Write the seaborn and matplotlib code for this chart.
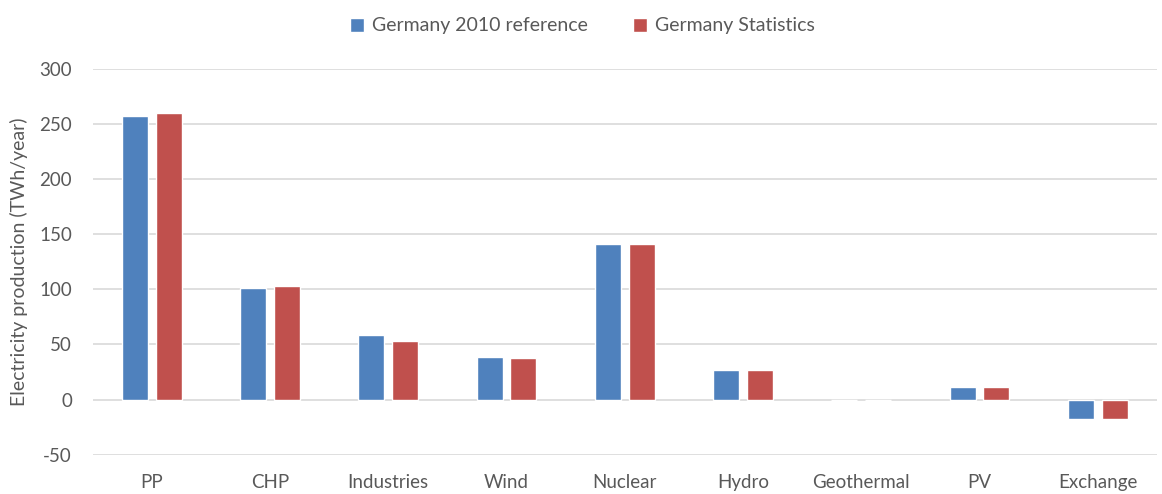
import matplotlib.pyplot as plt
import pandas as pd
import seaborn as sns

categories = ["PP", "CHP", "Industries", "Wind", "Nuclear", "Hydro", "Geothermal", "PV", "Exchange"]
reference_2010 = [257.6, 101.5, 58.2, 38.7, 140.8, 26.9, 0.03, 11.0, -17.4]
statistics = [259.8, 102.7, 53.4, 37.5, 140.8, 26.9, 0.03, 11.0, -17.4]
series_names = ["Germany 2010 reference", "Germany Statistics"]
y_ticks = [-50, 0, 50, 100, 150, 200, 250, 300]

sns.set_theme(style="white")
plt.rcParams["font.family"] = ["Lato", "DejaVu Sans"]
plt.rcParams["axes.unicode_minus"] = False

df = pd.DataFrame(
    {
        "Category": categories * 2,
        "Value": reference_2010 + statistics,
        "Series": [series_names[0]] * len(categories) + [series_names[1]] * len(categories),
    }
)

fig = plt.figure(figsize=(11.62, 4.94), dpi=100)
ax = fig.add_axes([0.0798, 0.0796, 0.9157, 0.7808])

ax.set_axisbelow(True)
ax.yaxis.grid(True, color="#D9D9D9", linewidth=1.2)

sns.barplot(
    data=df,
    x="Category",
    y="Value",
    hue="Series",
    palette=["#4F81BD", "#C0504D"],
    saturation=1,
    width=0.572,
    gap=0.23,
    ax=ax,
    legend=True,
)

ax.set_ylim(-50, 300)
ax.set_yticks(y_ticks)
ax.set_xlim(-0.5, len(categories) - 0.5)
for s in ax.spines.values():
    s.set_visible(False)

ax.tick_params(axis="both", length=0, colors="#595959", labelsize=13.5)
ax.tick_params(axis="x", pad=14)
ax.tick_params(axis="y", pad=15)
ax.set_xlabel("")
ax.set_ylabel("Electricity production (TWh/year)", fontsize=14, color="#595959", labelpad=8)

handles, labels = ax.get_legend_handles_labels()
ax.legend_.remove()
fig.legend(
    handles,
    labels,
    loc="upper center",
    bbox_to_anchor=(0.501, 1.0),
    ncol=2,
    frameon=False,
    fontsize=14,
    handlelength=0.75,
    handleheight=0.75,
    handletextpad=0.4,
    columnspacing=2.3,
    labelcolor="#595959",
)

fig.savefig("out.png", dpi=100)
plt.close(fig)
